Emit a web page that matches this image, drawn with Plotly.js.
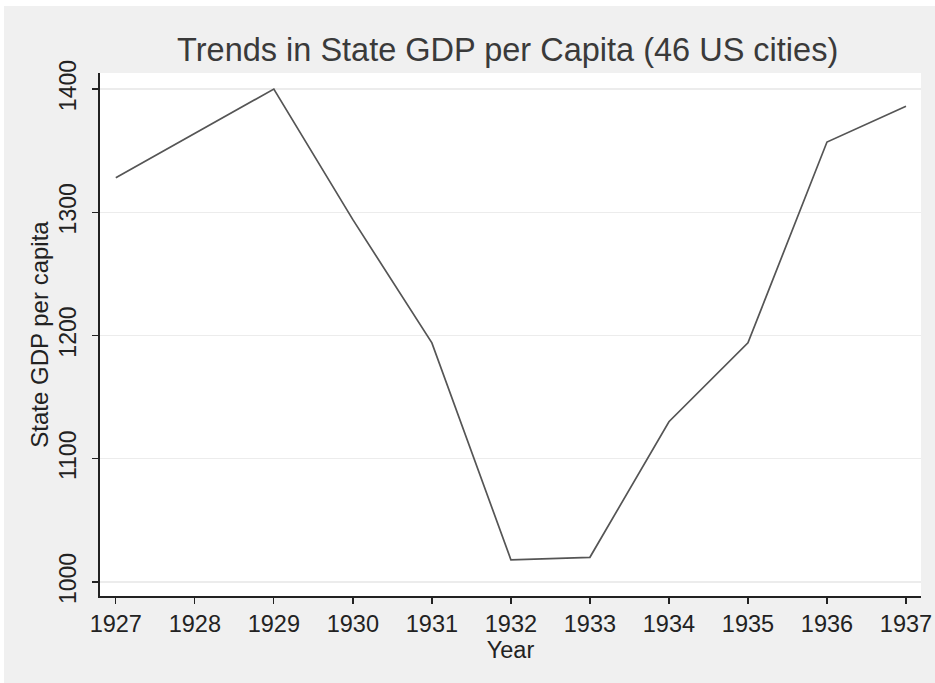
<!DOCTYPE html>
<html>
<head>
<meta charset="utf-8">
<script src="https://cdn.plot.ly/plotly-3.0.1.min.js"></script>
<style>
html,body{margin:0;padding:0;background:#ffffff;}
#chart{position:absolute;left:4px;top:6px;width:931px;height:677px;}
</style>
</head>
<body>
<div id="chart"></div>
<script>
const years = [1927, 1928, 1929, 1930, 1931, 1932, 1933, 1934, 1935, 1936, 1937];
const gdpPerCapita = [1328, 1364, 1400, 1294, 1194, 1018, 1020, 1130, 1194, 1357, 1386];
const yTicks = [1000, 1100, 1200, 1300, 1400];

const FONT = '"Liberation Sans", Arial, sans-serif';

const trace = {
  x: years,
  y: gdpPerCapita,
  type: 'scatter',
  mode: 'lines',
  line: {color: '#555555', width: 1.7},
  hoverinfo: 'x+y'
};

const layout = {
  width: 931,
  height: 677,
  paper_bgcolor: '#f0f0f0',
  plot_bgcolor: '#ffffff',
  margin: {l: 96, r: 14, t: 67, b: 87},
  showlegend: false,
  title: {
    text: 'Trends in State GDP per Capita (46 US cities)',
    font: {family: FONT, size: 32.5, color: '#3a3a3a'},
    x: 0.541, xanchor: 'center',
    y: 0.935, yanchor: 'middle'
  },
  xaxis: {
    range: [1926.8, 1937.19],
    tickmode: 'array',
    tickvals: years,
    ticktext: years.map(String),
    ticks: 'outside', ticklen: 6, tickwidth: 1.3, tickcolor: '#222',
    showline: true, linecolor: '#222', linewidth: 1.6,
    showgrid: false, zeroline: false,
    tickfont: {family: FONT, size: 23.5, color: '#222'},
    title: {text: 'Year', font: {family: FONT, size: 23.5, color: '#222'}, standoff: 0}
  },
  yaxis: {
    range: [988.6, 1413],
    tickmode: 'array',
    tickvals: yTicks,
    ticktext: yTicks.map(String),
    tickangle: -90,
    ticks: 'outside', ticklen: 6, tickwidth: 1.3, tickcolor: '#222',
    ticklabelstandoff: 7,
    showline: true, linecolor: '#222', linewidth: 1.6,
    showgrid: true, gridcolor: '#ececec', gridwidth: 1.2,
    zeroline: false,
    tickfont: {family: FONT, size: 23, color: '#222'},
    title: {text: 'State GDP per capita', font: {family: FONT, size: 24, color: '#222'}, standoff: 0}
  }
};

Plotly.newPlot('chart', [trace], layout, {displayModeBar: false, staticPlot: true});
</script>
</body>
</html>
